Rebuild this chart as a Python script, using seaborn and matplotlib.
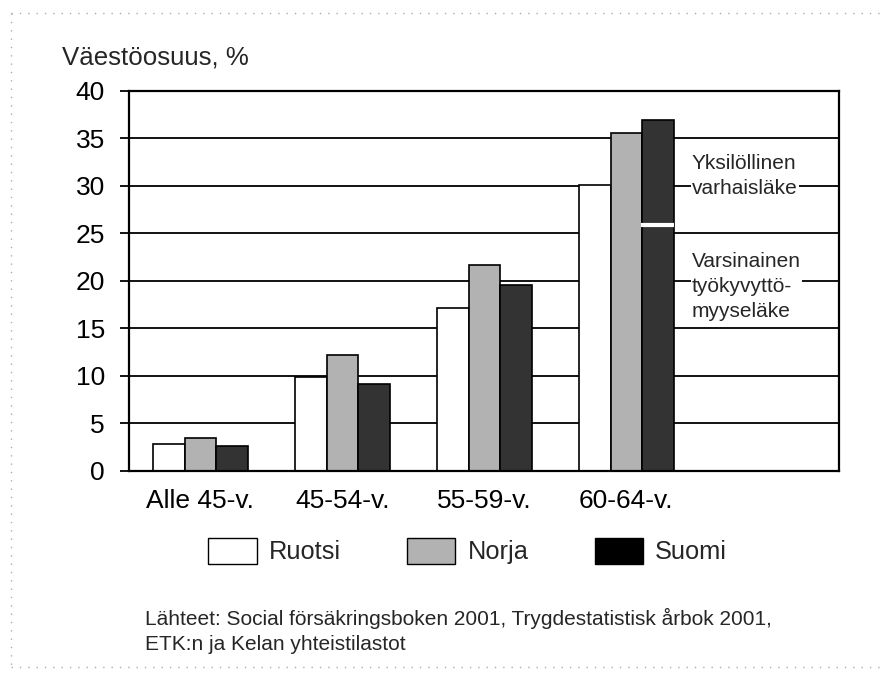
import pandas as pd
import seaborn as sns
import matplotlib
import matplotlib.pyplot as plt
from matplotlib.patches import Patch
from matplotlib.lines import Line2D

matplotlib.use('Agg')

# data
groups = ['Alle 45-v.', '45-54-v.', '55-59-v.', '60-64-v.']
countries = ['Ruotsi', 'Norja', 'Suomi']
ruotsi = [2.8, 9.9, 17.1, 30.1]
norja = [3.4, 12.2, 21.7, 35.6]
suomi = [2.6, 9.1, 19.6, 36.9]
suomi_split = 25.9  # border between the two pension types in the Suomi 60-64 bar

bar_colors = ['white', '#b2b2b2', '#333333']
legend_colors = ['white', '#b2b2b2', 'black']
y_ticks = [0, 5, 10, 15, 20, 25, 30, 35, 40]

ylabel = 'Väestöosuus, %'
note_upper = 'Yksilöllinen\nvarhaisläke'
note_lower = 'Varsinainen\ntyökyvyttö-\nmyyseläke'
source_1 = 'Lähteet: Social försäkringsboken 2001, Trygdestatistisk årbok 2001,'
source_2 = 'ETK:n ja Kelan yhteistilastot'

df = pd.DataFrame({
    'group': groups * 3,
    'country': [c for c in countries for _ in groups],
    'value': ruotsi + norja + suomi,
})

sns.set_style('white')
plt.rcParams['font.family'] = ['Liberation Sans', 'DejaVu Sans']

fig = plt.figure(figsize=(8.81, 6.73), dpi=100)
ax = fig.add_axes([0.1468, 0.3006, 0.8059, 0.5646])

sns.barplot(data=df, x='group', y='value', hue='country', order=groups,
            hue_order=countries, palette=dict(zip(countries, bar_colors)),
            width=0.668, gap=0, edgecolor='black', linewidth=1.2,
            saturation=1, legend=False, errorbar=None, ax=ax, zorder=2)

ax.set_xlim(-0.5, len(groups) + 0.5)
ax.set_ylim(0, 40)
ax.set_yticks(y_ticks)
ax.set_axisbelow(True)
ax.yaxis.grid(True, color='black', linewidth=1.3)
ax.xaxis.grid(False)
for s in ax.spines.values():
    s.set_color('black')
    s.set_linewidth(1.6)
ax.tick_params(axis='y', left=True, direction='out', length=6.5, width=1.3,
               pad=11, labelsize=19, colors='black')
ax.tick_params(axis='x', bottom=False, pad=10, labelsize=19, colors='black')
ax.set_xlabel('')
ax.set_ylabel('')

# white split line inside the tallest Suomi bar
top_bar = max(ax.patches, key=lambda p: p.get_height())
x0 = top_bar.get_x()
ax.hlines(suomi_split, x0 - 0.01, x0 + top_bar.get_width(), color='white',
          linewidth=3, zorder=3)

box = dict(facecolor='white', edgecolor='none', pad=1)
ax.text(0.7925, 0.776, note_upper, transform=ax.transAxes, ha='left',
        va='center', fontsize=15, linespacing=1.4, bbox=box, zorder=4)
ax.text(0.7925, 0.484, note_lower, transform=ax.transAxes, ha='left',
        va='center', fontsize=15, linespacing=1.4, bbox=box, zorder=4)

fig.text(0.070, 1 - 65 / 673, ylabel, fontsize=18.6, va='baseline', ha='left')

handles = [Patch(facecolor=c, edgecolor='black', linewidth=1) for c in legend_colors]
fig.legend(handles, countries, loc='center', bbox_to_anchor=(0.531, 0.1813),
           ncol=3, frameon=False, fontsize=18.3, handlelength=1.9,
           handleheight=1.2, handletextpad=0.48, columnspacing=2.6,
           borderpad=0)

fig.text(145 / 881, 1 - 625 / 673, source_1, fontsize=15, va='baseline')
fig.text(145 / 881, 1 - 650 / 673, source_2, fontsize=15, va='baseline')

# dotted frame around the picture
dots = dict(color='#aaaaaa', linewidth=1, linestyle=(0, (1, 5)))
fig.add_artist(Line2D([11 / 881, 1], [1 - 13 / 673, 1 - 13 / 673], **dots))
fig.add_artist(Line2D([11 / 881, 11 / 881], [1 - 13 / 673, 1 - 667 / 673], **dots))
fig.add_artist(Line2D([11 / 881, 1], [1 - 667 / 673, 1 - 667 / 673], **dots))

fig.savefig('out.png', dpi=100)
plt.close()
